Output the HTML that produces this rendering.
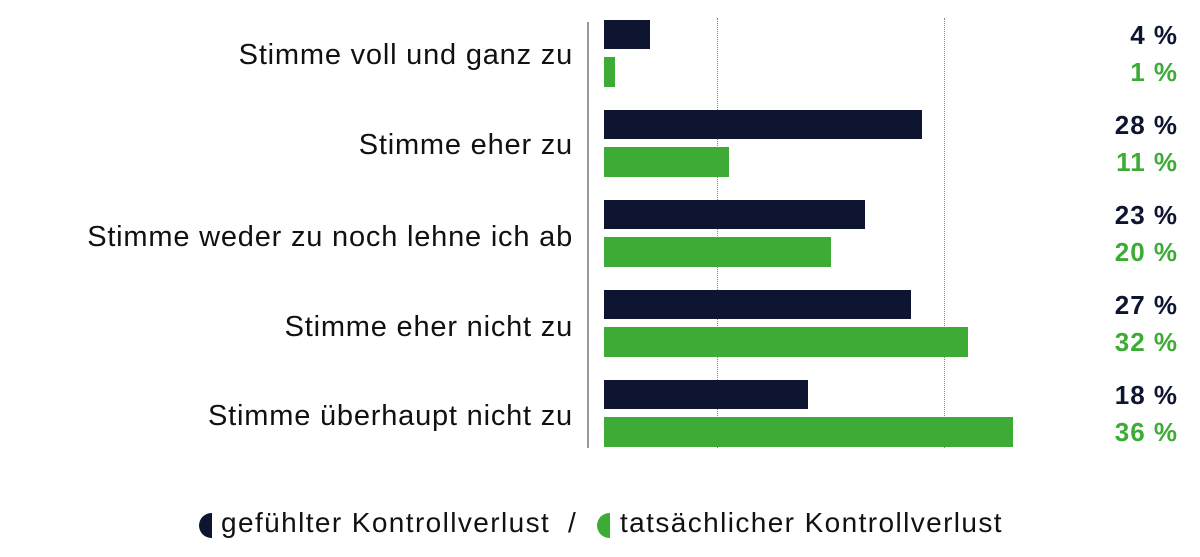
<!DOCTYPE html>
<html><head><meta charset="utf-8"><style>
body{margin:0;width:1200px;height:557px;background:#fff;font-family:"Liberation Sans",sans-serif;position:relative;overflow:hidden}
.a{position:absolute}
.lab{position:absolute;right:627px;font-size:29px;letter-spacing:0.8px;color:#111;white-space:nowrap;line-height:30px}
.v{position:absolute;right:22px;font-size:26px;letter-spacing:1px;font-weight:bold;line-height:28px;white-space:nowrap}
.d{background:#0e1530}.g{background:#3dab35}
.lg{position:absolute;top:507px;font-size:28px;letter-spacing:1.4px;color:#111;white-space:nowrap}
</style></head><body>
<div class="a" style="left:587px;top:22px;width:2px;height:426px;background:#999"></div>
<div class="a" style="left:717px;top:18px;height:430px;border-left:1px dotted #888"></div>
<div class="a" style="left:944px;top:18px;height:430px;border-left:1px dotted #888"></div>

<div class="a d" style="left:604px;top:20px;width:46px;height:29px"></div>
<div class="a g" style="left:604px;top:57px;width:11px;height:30px"></div>
<div class="a d" style="left:604px;top:110px;width:318px;height:29px"></div>
<div class="a g" style="left:604px;top:147px;width:125px;height:30px"></div>
<div class="a d" style="left:604px;top:200px;width:261px;height:29px"></div>
<div class="a g" style="left:604px;top:237px;width:227px;height:30px"></div>
<div class="a d" style="left:604px;top:290px;width:307px;height:29px"></div>
<div class="a g" style="left:604px;top:327px;width:364px;height:30px"></div>
<div class="a d" style="left:604px;top:380px;width:204px;height:29px"></div>
<div class="a g" style="left:604px;top:417px;width:409px;height:30px"></div>

<div class="lab" style="top:40px">Stimme voll und ganz zu</div>
<div class="lab" style="top:130px">Stimme eher zu</div>
<div class="lab" style="top:222px">Stimme weder zu noch lehne ich ab</div>
<div class="lab" style="top:312px">Stimme eher nicht zu</div>
<div class="lab" style="top:401px">Stimme überhaupt nicht zu</div>

<div class="v" style="top:21px;color:#0e1530">4 %</div>
<div class="v" style="top:58px;color:#3dab35">1 %</div>
<div class="v" style="top:111px;color:#0e1530">28 %</div>
<div class="v" style="top:148px;color:#3dab35">11 %</div>
<div class="v" style="top:201px;color:#0e1530">23 %</div>
<div class="v" style="top:238px;color:#3dab35">20 %</div>
<div class="v" style="top:291px;color:#0e1530">27 %</div>
<div class="v" style="top:328px;color:#3dab35">32 %</div>
<div class="v" style="top:381px;color:#0e1530">18 %</div>
<div class="v" style="top:418px;color:#3dab35">36 %</div>

<div class="a d" style="left:199px;top:513px;width:13px;height:25px;border-radius:13px 0 0 13px"></div>
<div class="lg" style="left:221px">gefühlter Kontrollverlust</div>
<div class="lg" style="left:568px">/</div>
<div class="a g" style="left:597px;top:513px;width:13px;height:25px;border-radius:13px 0 0 13px"></div>
<div class="lg" style="left:620px">tatsächlicher Kontrollverlust</div>
</body></html>
